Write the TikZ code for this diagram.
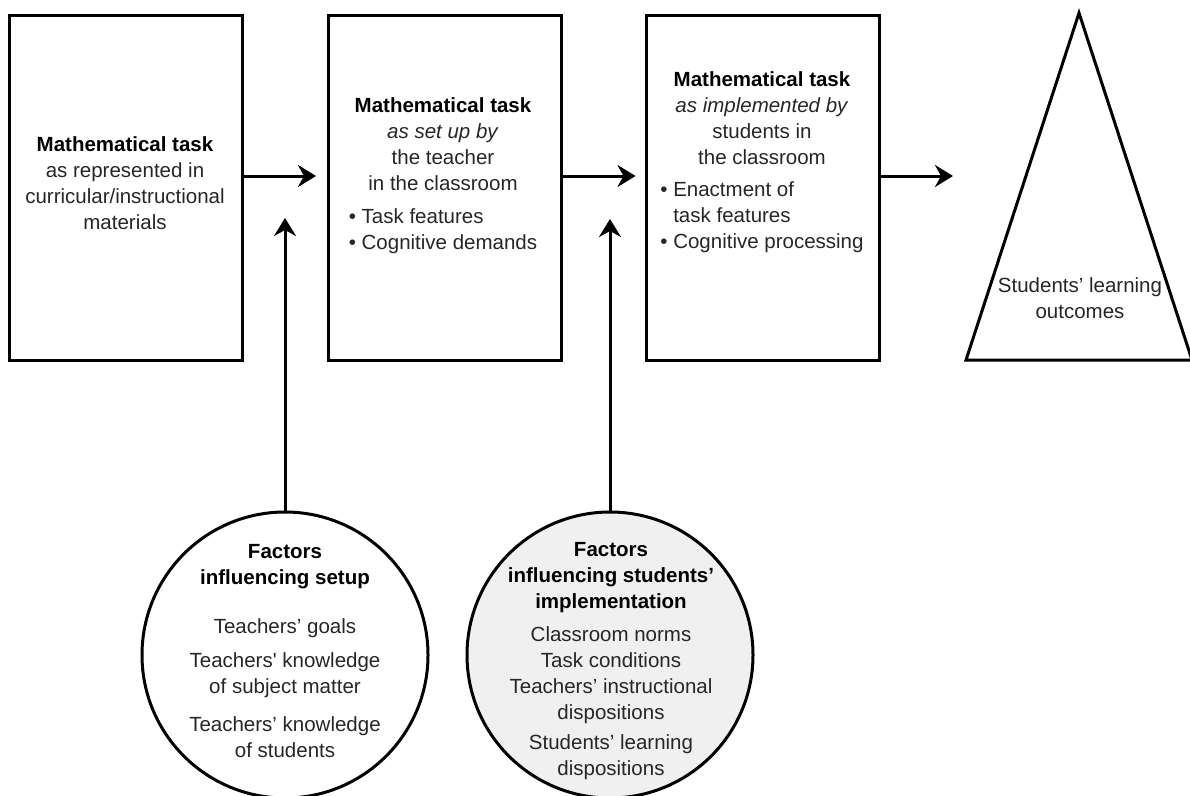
\documentclass[tikz,border=0pt]{standalone}
\usepackage{fontspec}
\setmainfont{Liberation Sans}
\usetikzlibrary{arrows.meta}
\definecolor{txtgray}{HTML}{262626}
\definecolor{circfill}{HTML}{F0F0F0}
\newcommand{\hdr}[1]{{\bfseries\color{black}#1}}
\begin{document}
\begin{tikzpicture}[x=1pt,y=-1pt,
  every node/.style={inner sep=0pt, outer sep=0pt},
  taskbox/.style={draw, line width=3pt, minimum width=233pt, minimum height=345.5pt},
  body/.style={font=\fontsize{20.5}{26}\selectfont, text=txtgray, align=center, anchor=north},
  factor/.style={draw, circle, line width=3pt, minimum size=286pt},
  arr/.style={line width=3pt, -{Stealth[length=18pt,width=22pt,inset=6pt]}},
  outline/.style={draw, line width=3pt, line join=miter}
]
\useasboundingbox (0,0) rectangle (1190,795);
\clip (0,0) rectangle (1190,795);

% task boxes
\node[taskbox] (b1) at (126,188) {};
\node[taskbox] (b2) at (445,188) {};
\node[taskbox] (b3) at (763,188) {};

% outcome triangle
\draw[outline] (1079,13) -- (1192,360) -- (966,360) -- cycle;

% factor circles
\node[factor] (c1) at (285,655) {};
\node[factor, fill=circfill] (c2) at (610,655) {};

% texts
\node[body] (t1) at (125,137) {\hdr{Mathematical task}\\as represented in\\curricular/instructional\\materials};
\node[body] (t2) at (443,98) {\hdr{Mathematical task}\\\textit{as set up by}\\the teacher\\in the classroom\\[7pt]
  \begin{tabular}[t]{@{}l@{}}•~Task features\\•~Cognitive demands\end{tabular}};
\node[body] (t3) at (762,72) {\hdr{Mathematical task}\\\textit{as implemented by}\\students in\\the classroom\\[6pt]
  \begin{tabular}[t]{@{}l@{}}•~Enactment of\\\phantom{•~}task features\\•~Cognitive processing\end{tabular}};
\node[body] (t4) at (1080,278) {Students’ learning\\outcomes};
\node[body] (f1) at (285,544) {\hdr{Factors}\\\hdr{influencing setup}\\[23pt]Teachers’ goals\\[8pt]Teachers\textquotesingle\ knowledge\\of subject matter\\[12pt]Teachers’ knowledge\\of students};
\node[body] (f2) at (611,542) {\hdr{Factors}\\\hdr{influencing students’}\\\hdr{implementation}\\[7pt]Classroom norms\\Task conditions\\Teachers’ instructional\\dispositions\\[4pt]Students’ learning\\dispositions};

% arrow end points
\coordinate (a3) at (953,176);
\coordinate (v1) at (285,218);
\coordinate (v2) at (610,219);

% connectors
\draw[arr, shorten >=12.5pt] ([yshift=12pt]b1.east) -- ([yshift=12pt]b2.west);
\draw[arr, shorten >=11pt] ([yshift=12pt]b2.east) -- ([yshift=12pt]b3.west);
\draw[arr] ([yshift=12pt]b3.east) -- (a3);
\draw[arr] (c1.north) -- (v1);
\draw[arr] (c2.north) -- (v2);
\end{tikzpicture}
\end{document}
